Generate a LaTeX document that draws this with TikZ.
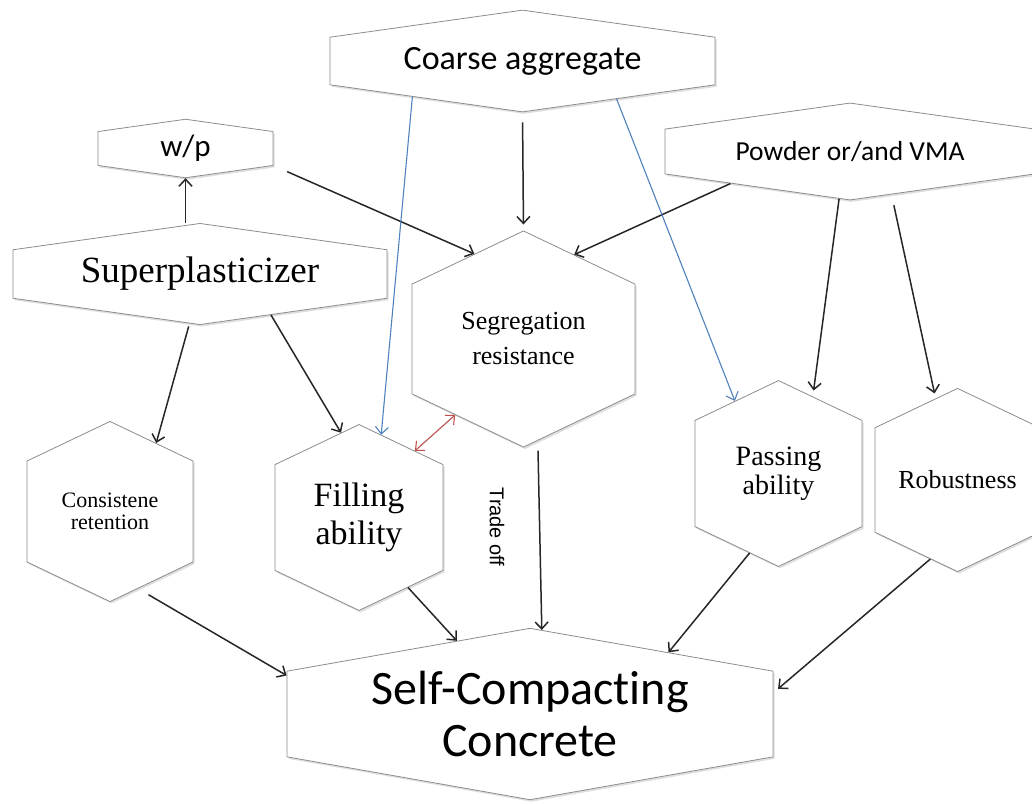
\documentclass[tikz,border=0pt]{standalone}
\usepackage{fontspec}
\usepackage{tikz}
\usetikzlibrary{shapes.symbols,shadows,arrows.meta}
\newfontfamily\calibfont[Ligatures=NoCommon]{Carlito}
\newfontfamily\timesfont{Liberation Serif}
\newfontfamily\arialfont{Liberation Sans}
\definecolor{lineblue}{RGB}{79,129,189}
\definecolor{linered}{RGB}{192,80,77}

\begin{document}
\begin{tikzpicture}[x=1pt,y=-1pt,>={Straight Barb[length=7pt,width=13pt]},
    hexa/.style={signal, signal to=north and south, draw=black!45, line width=0.8pt,
      fill=white, inner sep=0pt, align=center,
      drop shadow={shadow xshift=1.5pt, shadow yshift=-2pt, opacity=0.25}},
    flat/.style={hexa, signal pointer angle=164},
    tall/.style={hexa, signal pointer angle=129},
    conn/.style={->, draw=black!85, line width=1.5pt},
    bluecon/.style={->, draw=lineblue, line width=1.1pt},
    redcon/.style={<->, draw=linered, line width=1.1pt}]
  \useasboundingbox (0,0) rectangle (1032,804);

  % material inputs (minimum height = body + one pointer)
  \node[flat, minimum width=385pt, minimum height=81pt, font=\calibfont\fontsize{34}{38}\selectfont] (ca) at (522.5,61) {Coarse aggregate};
  \node[flat, minimum width=175pt, minimum height=41pt, font=\calibfont\fontsize{31}{34}\selectfont] (wp) at (185.5,148.5) {w/p};
  \node[flat, minimum width=374pt, minimum height=82pt, font=\timesfont\fontsize{37}{40}\selectfont] (sp) at (200,274) {Superplasticizer};
  \node[flat, minimum width=370pt, minimum height=77pt, font=\calibfont\fontsize{27.5}{30}\selectfont] (pw) at (850,151.5) {Powder or/and VMA};

  % properties
  \node[tall, minimum width=223pt, minimum height=169pt, font=\timesfont\fontsize{26}{35}\selectfont] (seg) at (523.5,339) {Segregation\\resistance};
  \node[tall, minimum width=166pt, minimum height=147pt, font=\timesfont\fontsize{22}{22}\selectfont] (con) at (110,511.5) {Consistene\\retention};
  \node[tall, minimum width=168pt, minimum height=149pt, font=\timesfont\fontsize{34}{38}\selectfont] (fil) at (359,517.5) {Filling\\ability};
  \node[tall, minimum width=167pt, minimum height=147pt, font=\timesfont\fontsize{28}{29}\selectfont] (pas) at (778.5,473.5) {Passing\\ability};
  \node[tall, minimum width=165pt, minimum height=161pt, font=\timesfont\fontsize{26}{28}\selectfont] (rob) at (957.5,480) {Robustness};

  \node[hexa, signal pointer angle=160, minimum width=486pt, minimum height=129pt, font=\calibfont\fontsize{48}{52}\selectfont] (scc) at (530,714) {Self-Compacting\\Concrete};

  \node[rotate=-90, font=\arialfont\fontsize{20}{22}\selectfont] (trade) at (497,527) {Trade off};

  % connectors
  \draw[conn] (sp.north -| wp.south) -- (wp.south);
  \draw[conn, shorten <=15pt] (wp.-11) -- (seg.120);
  \draw[conn, shorten <=10pt, shorten >=6pt] (ca.south) -- (seg.north);
  \draw[conn] (pw.195) -- (seg.59);
  \draw[conn, shorten >=6pt] (pw.257) -- (pas.66);
  \draw[conn, shorten <=11pt, shorten >=5pt] (pw.-46) -- (rob.105);
  \draw[conn, shorten <=3pt] (sp.258) -- (con.56);
  \draw[conn] (sp.-30) -- (fil.102);
  \draw[conn, shorten <=10pt] (seg.-82) -- (scc.82);
  \draw[conn, shorten <=12pt] (con.-70) -- (scc.171);
  \draw[conn] (fil.-55) -- (scc.135);
  \draw[conn] (pas.250) -- (scc.24);
  \draw[conn, shorten >=6pt] (rob.251) -- (scc.5);
  \draw[bluecon] (ca.198) -- (fil.75);
  \draw[bluecon] (ca.-22) -- (pas.121);
  \draw[redcon] (fil.50) -- (seg.228);
\end{tikzpicture}
\end{document}
